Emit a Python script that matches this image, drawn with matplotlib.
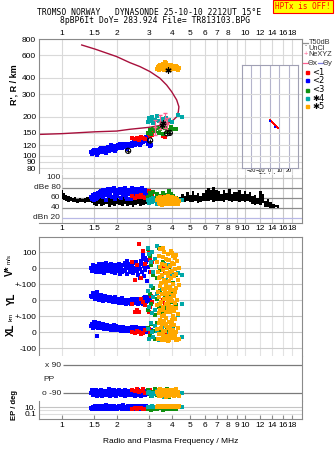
import numpy as np
import matplotlib
matplotlib.use('Agg')
from matplotlib import pyplot as plt

# ionogram echoes
freq_ticks = [1, 1.5, 2, 3, 4, 5, 6, 7, 8, 9, 10, 12, 14, 16, 18]
top_labels = ['1', '1.5', '2', '3', '4', '5', '6', '7', '8', '', '10', '12', '14', '16', '18']
low_labels = ['1', '1.5', '2', '3', '4', '5', '6', '7', '8', '9', '10', '12', '14', '16', '18']
r_ticks = [80, 90, 100, 120, 150, 200, 300, 400, 600, 800]

# model trace (dark red curve)
model_f = [0.752, 1.0, 1.52, 1.99, 2.35, 2.67, 3.03, 3.57, 3.97, 4.23, 4.32, 4.35,
           4.23, 3.97, 3.73, 3.43, 3.03, 2.67, 2.35, 1.99, 1.52, 1.285]
model_R = [146, 148, 153, 155, 160, 163, 166, 173, 183, 200, 219, 239,
           270, 313, 352, 397, 447, 489, 525, 585, 668, 719]

blue_f = [1.45, 1.47, 1.48, 1.50, 1.52, 1.53, 1.55, 1.57, 1.58, 1.60,
          1.62, 1.63, 1.65, 1.67, 1.68, 1.70, 1.72, 1.74, 1.76, 1.78,
          1.80, 1.82, 1.84, 1.86, 1.88, 1.90, 1.92, 1.94, 1.96, 1.98,
          2.00, 2.02, 2.05, 2.07, 2.10, 2.12, 2.15, 2.17, 2.20, 2.22,
          2.25, 2.27, 2.30, 2.32, 2.35, 2.37, 2.40, 2.42, 2.45, 2.47,
          2.50, 2.52, 2.55, 2.57, 2.60, 2.62, 2.65, 2.67, 2.70, 2.72,
          2.74, 2.76, 2.78, 2.80, 2.82, 2.84, 2.86, 2.88, 2.90, 2.92,
          1.49, 1.56, 1.64, 1.75, 1.85, 1.95, 2.08, 2.28, 2.48, 2.68,
          2.96, 3.02, 3.08]
blue_R = [106, 103, 108, 105, 110, 104, 107, 111, 105, 108,
          112, 106, 109, 113, 107, 110, 114, 108, 111, 116,
          109, 113, 117, 110, 114, 118, 112, 115, 119, 113,
          116, 120, 114, 117, 121, 115, 118, 122, 116, 119,
          123, 117, 120, 124, 118, 121, 125, 119, 122, 127,
          120, 124, 128, 122, 126, 131, 124, 128, 133, 126,
          130, 136, 128, 133, 138, 130, 135, 140, 132, 137,
          111, 102, 114, 105, 120, 109, 124, 113, 130, 121,
          122, 119, 121]
blue_dB = [62, 58, 66, 60, 68, 57, 64, 70, 61, 66,
           72, 63, 68, 75, 62, 70, 76, 65, 72, 78,
           64, 74, 68, 77, 62, 73, 79, 66, 71, 76,
           63, 75, 69, 78, 60, 72, 77, 65, 74, 79,
           62, 70, 76, 68, 73, 58, 75, 79, 66, 72,
           77, 63, 74, 69, 78, 61, 72, 76, 65, 73,
           79, 68, 62, 74, 70, 66, 75, 60, 72, 64,
           56, 60, 73, 55, 78, 58, 74, 57, 70, 63,
           60, 62, 58]
blue_V = [5, -15, 20, -5, 10, -25, 15, 0, -10, 25,
          -20, 5, 30, -8, 12, -30, 18, -3, 8, -18,
          22, -12, 4, 28, -22, 10, -6, 16, -28, 2,
          14, -16, 24, -4, 6, -24, 20, -10, 32, -14,
          8, -35, 18, 0, -20, 26, -8, 12, -30, 36,
          -12, 4, 40, -18, 22, -40, 10, -6, 48, 30,
          -25, 58, 83, 15, -45, 62, -10, 40, -80, 55,
          -12, 8, -22, 35, -2, 18, -34, 44, -15, -60,
          10, -20, 30]
blue_YL = [30, 18, 45, 22, 10, 28, 52, 15, 25, 5,
           20, 35, 12, -2, 24, 8, 30, 15, 0, 18,
           10, -5, 22, 2, 14, -8, 6, 20, -4, 10,
           -10, 4, -15, 8, -6, 12, -18, 0, -12, 5,
           -20, -8, 2, -16, -4, -21, 6, -10, -14, 0,
           -18, -6, 4, -12, -20, 8, -2, -16, 10, -8,
           -14, 2, -20, 12, -6, 18, 0, -10, 20, 4,
           40, 14, 26, 6, 16, -12, -2, -18, 10, -4,
           -6, 2, -10]
blue_XL = [40, 55, 30, 48, 62, 35, 50, 28, 44, 58,
           32, 46, 24, 38, 52, 20, 42, 30, 48, 18,
           36, 26, 40, 14, 32, 22, 44, 16, 28, 38,
           12, 30, 20, 36, 10, 26, 18, 34, 8, 24,
           30, 14, 22, 6, 28, 18, 10, 32, 4, 20,
           26, 12, 34, 8, 18, 28, 2, 22, 14, 30,
           10, 24, 0, 18, 30, 6, 20, 12, 26, 4,
           64, -23, 50, 38, 24, 42, 16, 26, 8, 14,
           10, 4, 16]
blue_PP = [-85, -70, -100, -78, -92, -66, -105, -82, -74, -96,
           -88, -68, -110, -80, -94, -72, -102, -86, -76, -98,
           -64, -90, -108, -74, -84, -100, -70, -92, -80, -106,
           -76, -96, -66, -88, -104, -72, -90, -82, -110, -68,
           -86, -98, -74, -94, -80, -102, -70, -88, -96, -78,
           -106, -72, -90, -84, -100, -66, -94, -80, -108, -76,
           -88, -98, -70, -92, -84, -104, -74, -86, -96, -80,
           -90, -76, -98, -84, -70, -102, -88, -78, -94, -82,
           -88, -74, -96]
blue_EP = [6, 3, 12, 4, 20, 2.5, 8, 15, 3, 10,
           5, 25, 2, 9, 4, 14, 6, 30, 3, 11,
           7, 2, 18, 5, 9, 3, 22, 6, 4, 13,
           2.5, 8, 16, 4, 10, 3, 28, 6, 12, 2,
           9, 5, 20, 3, 7, 14, 4, 11, 2.5, 8,
           18, 5, 3, 12, 6, 24, 4, 9, 2, 15,
           7, 3, 10, 5, 20, 4, 8, 14, 3, 6,
           10, 5, 8, 3, 12, 6, 4, 9, 7, 5,
           10, 12, 8]

red_f = [2.40, 2.50, 2.58, 2.65, 2.72, 2.78, 2.85, 2.98, 3.02, 3.08, 3.12, 3.55, 3.65]
red_R = [136, 134, 138, 133, 140, 137, 135, 148, 142, 152, 145, 143, 140]
red_dB = [63, 60, 64, 61, 65, 62, 60, 73, 70, 72, 68, 66, 64]
red_V = [40, -70, 20, 150, -60, 110, 30, 95, 60, -20, 40, 10, -30]
red_YL = [-20, -75, -60, -70, 10, -10, -30, -70, -40, 30, -10, 0, -20]
red_XL = [0, -5, 10, 5, -10, -2, 15, 20, -5, 10, 0, 5, -10]
red_PP = [-70, -75, -60, -80, -72, -65, -85, -75, -70, -95, -80, -90, -100]
red_EP = [3, 5, 2, 4, 6, 3, 2, 8, 5, 3, 4, 6, 3]

green_f = [2.97, 3.02, 3.08, 3.15, 3.22, 3.30, 3.38, 3.45, 3.55, 3.65, 3.75, 3.85, 3.95, 4.05, 4.20]
green_R = [150, 158, 146, 162, 155, 165, 150, 160, 148, 163, 153, 158, 166, 160, 162]
green_dB = [62, 70, 66, 72, 60, 68, 64, 58, 70, 62, 66, 74, 68, 64, 60]
green_V = [120, 80, 20, -40, 60, -60, 130, -10, 40, -80, -30, 10, -60, -90, -40]
green_YL = [-60, 40, -20, 80, -90, 10, -40, 60, -70, 20, -50, 30, -10, 50, -30]
green_XL = [30, -20, 50, 10, -40, 60, 0, 20, -30, 40, 15, 25, -10, 35, 5]
green_PP = [-70, -95, -110, -80, -60, -100, -85, -75, -105, -90, -65, -115, -80, -95, -70]
green_EP = [2, 5, 1.5, 8, 3, 2, 6, 4, 1, 3, 5, 2, 7, 2, 3]

teal_f = [2.96, 3.00, 3.05, 3.10, 3.15, 3.22, 3.30, 3.40, 3.50, 3.60, 3.70, 3.85, 4.00, 4.30, 4.50]
teal_R = [182, 195, 186, 200, 178, 190, 203, 185, 192, 180, 197, 188, 183, 205, 200]
teal_dB = [55, 50, 58, 52, 60, 54, 48, 56, 50, 58, 53, 57, 52, 56, 55]
teal_V = [130, 90, 40, 100, -20, 60, 140, 10, -50, 30, -70, 20, -40, -30, -40]
teal_YL = [60, -40, 90, -80, 20, -60, 40, -20, 70, -90, 10, -50, 30, -94, -20]
teal_XL = [20, -40, 60, 0, -30, 40, 10, -50, 30, -20, 50, -10, 20, -40, -30]
teal_PP = [-90, -80, -100, -110, -85, -95, -75, -105, -90, -115, -80, -100, -95, -85, -90]
teal_EP = [10, 12, 8, 14, 9, 11, 13, 10, 8, 12, 10, 9, 11, 10, 12]

orange_f = [3.32, 3.35, 3.38, 3.40, 3.42, 3.45, 3.48, 3.50, 3.52, 3.55,
            3.58, 3.60, 3.62, 3.65, 3.68, 3.70, 3.72, 3.75, 3.78, 3.80,
            3.82, 3.85, 3.88, 3.90, 3.92, 3.95, 3.98, 4.00, 4.02, 4.05,
            4.08, 4.10, 4.12, 4.15, 4.18, 4.20, 4.25, 4.30, 4.35, 3.44,
            3.57, 3.67, 3.77, 3.87, 3.97]
orange_R = [470, 485, 460, 495, 475, 490, 465, 500, 480, 470,
            510, 485, 460, 495, 475, 520, 480, 465, 490, 505,
            470, 485, 495, 460, 480, 500, 475, 490, 465, 485,
            470, 495, 480, 475, 490, 470, 485, 460, 480, 500,
            475, 530, 490, 470, 485]
orange_dB = [55, 60, 50, 58, 48, 62, 53, 57, 46, 60,
             52, 56, 49, 61, 54, 47, 58, 51, 63, 55,
             50, 57, 48, 60, 53, 56, 49, 62, 52, 58,
             47, 55, 50, 59, 54, 51, 57, 48, 53, 56,
             50, 58, 52, 55, 49]
orange_V = [40, -20, 80, -60, 10, 120, -90, 30, -40, 70,
            -10, 100, -70, 20, -30, 60, -100, 0, 90, -50,
            50, -80, 15, -25, 110, -60, 35, -15, 75, -95,
            25, -45, 65, -5, 85, -35, 45, -75, 5, -55,
            130, -85, 55, -20, 95]
orange_YL = [-30, 50, -80, 20, -60, 90, -10, 40, -100, 70,
             -40, 10, -90, 60, -20, 80, -70, 30, -50, 0,
             45, -35, 85, -75, 15, -55, 65, -5, 35, -95,
             25, -65, 55, -15, 75, -45, 5, -85, 95, -25,
             -60, 40, -10, 70, -40]
orange_XL = [20, -40, 60, -10, 80, -40, 30, -45, 50, 0,
             -30, 70, -50, 10, 90, -20, 40, -35, -55, 25,
             -45, 65, -15, 35, -35, 55, -5, 75, -35, 15,
             -30, 45, -25, 85, -50, 5, -50, 30, -40, 60,
             -20, 50, -40, 10, 70]
orange_PP = [-80, -95, -70, -105, -88, -62, -110, -92, -76, -100,
             -85, -68, -98, -82, -112, -74, -90, -104, -66, -94,
             -78, -108, -86, -72, -96, -84, -102, -70, -92, -80,
             -106, -88, -74, -98, -64, -90, -100, -82, -110, -76,
             -94, -86, -72, -102, -90]
orange_EP = [12, 15, 10, 18, 9, 14, 11, 20, 13, 10,
             16, 12, 9, 15, 11, 22, 10, 14, 12, 17,
             10, 13, 11, 19, 9, 15, 12, 10, 14, 11,
             18, 12, 10, 16, 13, 9, 15, 11, 20, 12,
             14, 10, 13, 11, 16]

# black special echoes
circ_f = [2.30, 3.03, 3.75, 3.88]
circ_R = [109, 131, 149, 150]
star_f = [3.50, 3.55, 3.80]
star_R = [173, 178, 460]

# NeXYZ error bars
ne_f = [3.22, 3.44, 3.66, 3.75]
ne_R = [168, 182, 188, 176]
ne_lo = [145, 160, 165, 158]
ne_hi = [190, 205, 213, 195]

# tilt inset
tilt_red_x = [0, 1, 2, 3, 4, 5, 6, 7, 8, 9]
tilt_red_R = [188, 185, 182, 179, 176, 174, 171, 169, 167, 165]
tilt_blue_x = [0, 5.5]
tilt_blue_R = [186, 168]

# T50dB noise band in the dBe panel
band_f = [1.00, 1.03, 1.06, 1.09, 1.12, 1.15, 1.18, 1.22, 1.26, 1.30, 1.34, 1.38, 1.42, 1.46,
          1.50, 1.55, 1.60, 1.65, 1.70, 1.76, 1.82, 1.88, 1.94, 2.00, 2.07, 2.14, 2.21, 2.28,
          2.36, 2.44, 2.52, 2.60, 2.69, 2.78, 2.87, 2.96,
          3.06, 3.16, 3.27, 3.38, 3.49, 3.61, 3.73, 3.85, 3.98, 4.11, 4.25, 4.39,
          4.54, 4.69, 4.85, 5.01, 5.18, 5.35, 5.53, 5.71, 5.90,
          6.10, 6.30, 6.51, 6.73, 6.95,
          7.18, 7.42, 7.67, 7.93, 8.19, 8.46, 8.74,
          9.03, 9.33, 9.64, 9.96, 10.3, 10.6,
          11.0, 11.3, 11.7, 12.1, 12.5,
          12.9, 13.3, 13.8,
          14.2, 14.7, 15.2]
band_hi = [76, 70, 66, 64, 62, 60, 62, 58, 60, 57, 59, 62, 58, 60,
           62, 60, 58, 61, 57, 60, 59, 62, 58, 60, 57, 61, 59, 58,
           62, 60, 57, 59, 61, 58, 60, 59,
           60, 62, 58, 61, 59, 63, 60, 58, 62, 60, 64, 61,
           68, 64, 71, 66, 73, 65, 69, 64, 70,
           75, 80, 76, 82, 75,
           73, 68, 75, 70, 77, 67, 72,
           71, 75, 68, 73, 67, 72,
           63, 65, 59, 74, 68,
           54, 58, 51,
           47, 46, 45]
band_lo = [58, 56, 54, 52, 53, 51, 52, 50, 52, 51, 50, 52, 51, 50,
           46, 44, 48, 43, 45, 47, 42, 46, 44, 48, 45, 43, 47, 44,
           46, 42, 45, 48, 44, 46, 47, 45,
           48, 50, 47, 49, 46, 50, 48, 47, 49, 51, 48, 50,
           53, 51, 54, 52, 51, 53, 50, 52, 54,
           54, 53, 55, 52, 54,
           53, 54, 52, 55, 53, 52, 54,
           53, 51, 54, 52, 53, 51,
           47, 46, 48, 45, 49,
           41, 42, 40,
           40, 41, 40]

W, H = 335, 451
F0, F1 = 0.752, 20.3
GRID = '#d9d9d9'
FRAME = '#8a8a8a'
plt.rcParams['font.family'] = ['Liberation Sans', 'DejaVu Sans']
plt.rcParams['axes.linewidth'] = 0.8

fig = plt.figure(figsize=(W / 100, H / 100), dpi=100)


def px_axes(x0, y0, x1, y1):
    return fig.add_axes([x0 / W, 1 - y1 / H, (x1 - x0) / W, (y1 - y0) / H])


def freq_axis(ax):
    ax.set_xscale('log')
    ax.set_xlim(F0, F1)
    ax.set_xticks(freq_ticks)
    ax.minorticks_off()
    for s in ax.spines.values():
        s.set_color(FRAME)


groups = [
    ('#0000ff', blue_f, blue_R, blue_dB, blue_V, blue_YL, blue_XL, blue_PP, blue_EP),
    ('#ff0000', red_f, red_R, red_dB, red_V, red_YL, red_XL, red_PP, red_EP),
    ('#109010', green_f, green_R, green_dB, green_V, green_YL, green_XL, green_PP, green_EP),
    ('#00a8a8', teal_f, teal_R, teal_dB, teal_V, teal_YL, teal_XL, teal_PP, teal_EP),
    ('#ffa800', orange_f, orange_R, orange_dB, orange_V, orange_YL, orange_XL, orange_PP, orange_EP),
]
MS = 5

# --- ionogram
ax1 = px_axes(39, 39, 301.7, 174)
freq_axis(ax1)
ax1.set_yscale('log')
ax1.set_ylim(72.1, 800)
ax1.minorticks_off()
ax1.set_yticks(r_ticks)
ax1.set_yticklabels([str(r) for r in r_ticks])
ax1.set_xticklabels(top_labels)
ax1.tick_params(axis='x', top=True, bottom=False, labeltop=True, labelbottom=False,
                length=0, pad=1.5, labelsize=6)
ax1.tick_params(axis='y', length=0, pad=2, labelsize=6)
ax1.grid(True, color=GRID, lw=0.8)
ax1.set_axisbelow(True)
ax1.spines['bottom'].set_visible(False)
ax1.plot(model_f, model_R, color='#a8103c', lw=1.0)
for g in groups:
    ax1.scatter(g[1], g[2], s=MS, marker='s', color=g[0], linewidths=0, zorder=3)
ax1.errorbar(ne_f, ne_R, yerr=[np.array(ne_R) - np.array(ne_lo), np.array(ne_hi) - np.array(ne_R)],
             fmt='+', color='#ff6090', ms=3, lw=0.8, capsize=1.5, zorder=4)
ax1.scatter(circ_f, circ_R, s=14, marker='o', facecolors='none', edgecolors='black',
            linewidths=0.8, zorder=5)
ax1.scatter(circ_f, circ_R, s=8, marker='+', color='black', linewidths=0.6, zorder=5)
ax1.scatter(star_f, star_R, s=14, marker=(6, 2, 0), color='black', linewidths=0.9, zorder=5)

# --- tilt inset
axt = px_axes(242.3, 65, 297.7, 167.7)
axt.set_xlim(-29.2, 29.6)
axt.set_yscale('log')
axt.set_ylim(80.7, 504)
axt.minorticks_off()
axt.set_xticks([-20, -10, 0, 10, 20])
axt.set_yticks([90, 100, 120, 150, 200, 300, 400])
axt.set_yticklabels([])
axt.tick_params(length=0, pad=0.5, labelsize=4)
axt.grid(True, axis='y', color=GRID, lw=0.8)
axt.grid(True, axis='x', color='#b4b4cc', lw=0.8)
for s in axt.spines.values():
    s.set_color('#a0a0b4')
axt.set_xlabel('Tilt / deg', fontsize=4.2, labelpad=0)
axt.scatter(tilt_red_x, tilt_red_R, s=4, marker='s', color='#ff0000', linewidths=0, zorder=3)
axt.scatter(tilt_blue_x, tilt_blue_R, s=4, marker='s', color='#0000ff', linewidths=0, zorder=3)

# --- dBe panel
ax2 = px_axes(39, 174, 301.7, 222.7)
freq_axis(ax2)
ax2.set_ylim(10, 107.4)
ax2.set_yticks([])
ax2.set_xticklabels(low_labels)
ax2.tick_params(axis='x', length=0, pad=2, labelsize=6)
ax2.spines['left'].set_visible(False)
ax2.spines['top'].set_visible(False)
ax2.vlines(freq_ticks, 10, 107.4, color='#c8c8c8', lw=0.8, zorder=0)
ax2.hlines(100, 1.0, F1, color='#c4c4c4', lw=0.9)
ax2.hlines([80, 60, 40], 1.0, F1, color='#8c8c8c', lw=0.9)
ax2.hlines(20, 1.0, F1, color='#b8b8e6', lw=0.9)
for val, lab in [(100, '100'), (80, 'dBe 80'), (60, '60'), (40, '40'), (20, 'dBn 20')]:
    ax2.text(0.982, val, lab, ha='right', va='center', fontsize=6, color='#222222')
ax2.fill_between(band_f, band_lo, band_hi, step='mid', color='black', lw=0, zorder=2)
for g in groups:
    ax2.scatter(g[1], g[3], s=MS, marker='s', color=g[0], linewidths=0, zorder=3)

# --- V*, YL, XL panel (stacked offsets 0, -200, -400)
ax3 = px_axes(39, 237.3, 301.7, 356)
freq_axis(ax3)
ax3.set_ylim(-548, 194)
ax3.set_yticks([100, 0, -100, -200, -300, -400, -500])
ax3.set_yticklabels(['100', '0', '+-100', '0', '+-100', '0', '-100'])
ax3.set_xticklabels([])
ax3.tick_params(length=0, pad=2, labelsize=6)
ax3.grid(True, axis='x', color='#e2e2e2', lw=0.8)
ax3.grid(True, axis='y', color='#cdcdcd', lw=0.8)
ax3.set_axisbelow(True)
ax3.spines['bottom'].set_visible(False)
for g in groups:
    f = g[1]
    ax3.scatter(f, g[4], s=MS, marker='s', color=g[0], linewidths=0, zorder=3)
    ax3.scatter(f, np.array(g[5]) - 200, s=MS, marker='s', color=g[0], linewidths=0, zorder=3)
    ax3.scatter(f, np.array(g[6]) - 400, s=MS, marker='s', color=g[0], linewidths=0, zorder=3)

# --- polarisation panel
ax4 = px_axes(39, 356, 301.7, 401)
freq_axis(ax4)
ax4.set_ylim(-139.5, 149.8)
ax4.set_xticks([])
ax4.set_yticks([])
for side in ['left', 'top', 'bottom']:
    ax4.spines[side].set_visible(False)
ax4.hlines([90, -90], 1.02, F1, color='#7a7a7a', lw=0.9)
ax4.text(0.995, 90, 'x 90', ha='right', va='center', fontsize=6, color='#222222')
ax4.text(0.995, -90, 'o -90', ha='right', va='center', fontsize=6, color='#222222')
ax4.text(0.79, 0, 'PP', ha='left', va='center', fontsize=6, color='#222222')
for g in groups:
    ax4.scatter(g[1], g[7], s=MS, marker='s', color=g[0], linewidths=0, zorder=3)

# --- EP panel
ax5 = px_axes(39, 401, 301.7, 419)
freq_axis(ax5)
ax5.set_yscale('log')
ax5.set_ylim(0.0037, 520)
ax5.minorticks_off()
ax5.set_yticks([10, 0.1])
ax5.set_yticklabels(['10.', '0.1'])
ax5.set_xticklabels(low_labels)
ax5.tick_params(axis='y', length=0, pad=2, labelsize=6)
ax5.tick_params(axis='x', direction='in', length=3, color=FRAME, pad=2.5, labelsize=6)
ax5.spines['top'].set_visible(False)
ax5.hlines(10, F0, F1, color='#c4c4c4', lw=0.8)
ax5.hlines([1, 0.1], F0, F1, color='#dedede', lw=0.8)
for g in groups:
    ax5.scatter(g[1], g[8], s=MS, marker='s', color=g[0], linewidths=0, zorder=3)
ax5.set_xlabel('Radio and Plasma Frequency / MHz', fontsize=6, labelpad=6)

# --- axis labels on the left
fig.text(13.5 / W, 1 - 85 / H, "R', R / km", rotation=90, ha='center', va='center',
         fontsize=6.5, weight='bold')
fig.text(9.5 / W, 1 - 271 / H, 'V*', rotation=90, ha='center', va='center', fontsize=7, weight='bold')
fig.text(9.5 / W, 1 - 259 / H, 'm/s', rotation=90, ha='center', va='center', fontsize=4.5)
fig.text(11.5 / W, 1 - 299 / H, 'YL', rotation=90, ha='center', va='center', fontsize=7, weight='bold')
fig.text(11.5 / W, 1 - 317 / H, 'km', rotation=90, ha='center', va='center', fontsize=4.5)
fig.text(11 / W, 1 - 330 / H, 'XL', rotation=90, ha='center', va='center', fontsize=7, weight='bold')
fig.text(14 / W, 1 - 405 / H, 'EP / deg', rotation=90, ha='center', va='center',
         fontsize=5.5, weight='bold')

# --- header
fig.text(149.5 / W, 1 - 12.2 / H, 'TROMSO NORWAY   DYNASONDE 25-10-10 2212UT 15°E',
         ha='center', va='center', fontsize=5.8, family='DejaVu Sans Mono')
fig.text(155.4 / W, 1 - 20.2 / H, '8pBP6It DoY= 283.924 File= TR813103.BPG',
         ha='center', va='center', fontsize=5.8, family='DejaVu Sans Mono')
fig.text(303 / W, 1 - 6.6 / H, 'HPTx is OFF!', ha='center', va='center', fontsize=5.6,
         family='DejaVu Sans Mono', color='#ff0000',
         bbox=dict(facecolor='#ffff00', edgecolor='#ff0000', boxstyle='square,pad=0.25', lw=0.8))


# --- legend on the right
def fx(x):
    return x / W


def fy(y):
    return 1 - y / H


LF = 5.3
fig.lines.append(plt.Line2D([fx(303), fx(307.5)], [fy(43), fy(43)], color='#909090', lw=0.9,
                            transform=fig.transFigure))
fig.text(fx(308.5), fy(43), 'T50dB', va='center', fontsize=LF, color='#333333')
fig.text(fx(305.3), fy(48), '.', va='bottom', ha='center', fontsize=LF, color='black')
fig.text(fx(308.5), fy(48.5), 'UnCl', va='center', fontsize=LF, color='#333333')
fig.text(fx(305.3), fy(54.5), '+', va='center', ha='center', fontsize=LF, color='#ff6090')
fig.text(fx(308.5), fy(54.5), 'NeXYZ', va='center', fontsize=LF, color='#333333')
fig.lines.append(plt.Line2D([fx(303), fx(307.5)], [fy(63), fy(63)], color='#ff6090', lw=0.9,
                            transform=fig.transFigure))
fig.text(fx(308), fy(63), 'Θx', va='center', fontsize=LF, color='#333333', family='DejaVu Sans')
fig.lines.append(plt.Line2D([fx(318), fx(322.5)], [fy(63), fy(63)], color='#8080e0', lw=0.9,
                            transform=fig.transFigure))
fig.text(fx(322.8), fy(63), 'Θy', va='center', fontsize=LF, color='#333333', family='DejaVu Sans')
leg_y = [72.7, 80.7, 90, 98.3, 106]
leg_txt = ['<1', '<2', '<3', '✱4', '✱5']
for (g, y, t) in zip(groups[1:2] + groups[0:1] + groups[2:], leg_y, leg_txt):
    fig.patches.append(plt.Rectangle((fx(305.8), fy(y + 1.5)), 3 / W, 3 / H, color=g[0],
                                     transform=fig.transFigure))
    fig.text(fx(312), fy(y), t, va='center', fontsize=6, color='black', family='DejaVu Sans')

fig.savefig('out.png', dpi=100)
